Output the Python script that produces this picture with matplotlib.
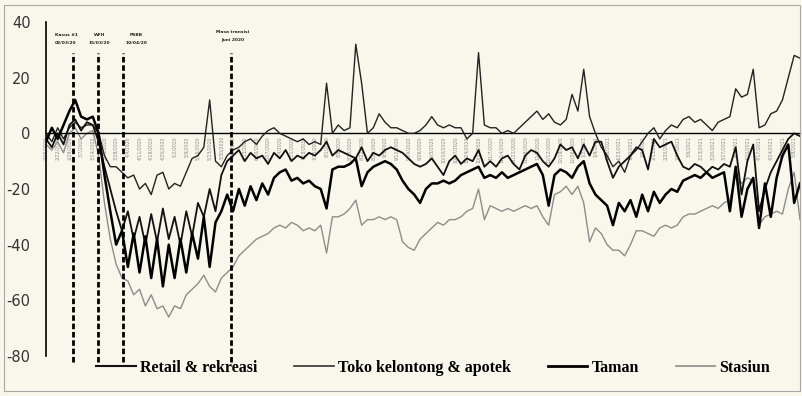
import matplotlib
matplotlib.use('Agg')
import matplotlib.pyplot as plt
import matplotlib.dates as mdates
from matplotlib.ticker import FuncFormatter
from matplotlib.patches import Rectangle
from matplotlib.lines import Line2D
import pandas as pd

plt.rcParams['axes.unicode_minus'] = False

# half-week samples, starting 15 Feb 2020
start = '2020-02-15'

retail = [-2, -5, 0, -4, 3, 5, 1, 4, 3, -3,
          -12, -20, -28, -35, -28, -38, -30, -40, -29, -39,
          -27, -38, -30, -40, -28, -37, -25, -30, -20, -28,
          -15, -10, -8, -6, -10, -7, -9, -8, -11, -7,
          -9, -6, -10, -8, -9, -7, -8, -6, -3, -8,
          -6, -7, -8, -9, -5, -10, -7, -8, -6, -5,
          -6, -7, -9, -11, -12, -11, -9, -12, -15, -10,
          -8, -11, -9, -10, -6, -12, -10, -12, -9, -8,
          -11, -13, -8, -6, -7, -10, -12, -9, -4, -6,
          -5, -9, -4, -8, -3, -3, -10, -16, -12, -10,
          -8, -5, -6, -13, -2, -5, -4, -3, -8, -12,
          -13, -11, -12, -14, -12, -13, -11, -12, -5, -22,
          -10, -4, -28, -20, -14, -10, -6, -2, 0, -1]

toko = [0, -3, 2, -2, 2, 4, 2, 3, 3, 0,
        -8, -12, -12, -14, -16, -15, -20, -18, -22, -15,
        -14, -20, -18, -19, -14, -9, -8, -5, 12, -10,
        -12, -8, -6, -5, -3, -2, -4, -1, 1, 2,
        0, -1, -2, -3, -2, -4, -3, -4, 18, 0,
        3, 1, 2, 32, 18, 0, 2, 7, 4, 2,
        2, 1, 0, 0, 1, 3, 6, 3, 2, 3,
        2, 2, -2, 0, 29, 3, 2, 2, 0, 1,
        0, 2, 4, 6, 8, 5, 7, 4, 3, 5,
        14, 8, 23, 6, 0, -5, -8, -12, -10, -14,
        -8, -6, -3, 0, 2, -2, 1, 3, 2, 5,
        6, 4, 5, 3, 1, 4, 5, 6, 16, 13,
        14, 23, 2, 3, 7, 8, 12, 20, 28, 27]

taman = [-3, 2, -2, 3, 8, 12, 6, 5, 6, 0,
         -15, -28, -40, -35, -48, -36, -50, -37, -52, -38,
         -55, -40, -52, -38, -50, -36, -45, -30, -48, -32,
         -28, -22, -28, -20, -26, -19, -24, -18, -22, -16,
         -14, -13, -17, -16, -18, -17, -19, -20, -27, -13,
         -12, -12, -11, -9, -19, -14, -12, -11, -10, -11,
         -13, -17, -20, -22, -25, -20, -18, -18, -17, -18,
         -17, -15, -14, -13, -12, -16, -15, -16, -14, -16,
         -15, -14, -13, -12, -11, -15, -26, -15, -13, -14,
         -16, -12, -10, -18, -22, -24, -26, -33, -25, -28,
         -24, -30, -22, -28, -21, -25, -22, -20, -21, -17,
         -16, -15, -16, -14, -16, -15, -14, -28, -12, -30,
         -20, -16, -34, -18, -30, -16, -8, -4, -25, -18]

stasiun = [-4, -6, -3, -7, 0, 2, -2, 0, 1, -8,
           -25, -38, -47, -52, -53, -58, -56, -62, -58, -63,
           -62, -66, -62, -63, -58, -56, -54, -51, -55, -57,
           -52, -50, -48, -44, -42, -40, -38, -37, -36, -34,
           -33, -34, -32, -33, -35, -34, -35, -33, -43, -30,
           -30, -29, -27, -24, -33, -31, -31, -30, -31, -30,
           -31, -39, -41, -42, -38, -36, -34, -32, -33, -31,
           -31, -30, -28, -27, -20, -31, -26, -27, -28, -27,
           -28, -27, -26, -27, -26, -30, -33, -22, -21, -19,
           -22, -19, -25, -39, -34, -36, -40, -42, -42, -44,
           -40, -35, -35, -36, -37, -34, -33, -34, -33, -30,
           -29, -29, -28, -27, -26, -27, -25, -24, -15, -18,
           -16, -17, -33, -30, -29, -28, -29, -20, -14, -31]

series_names = ['Retail & rekreasi', 'Toko kelontong & apotek', 'Taman', 'Stasiun']

event_dates = ['2020-03-02', '2020-03-17', '2020-04-01', '2020-06-05']
event_text_dates = ['2020-02-27', '2020-03-18', '2020-04-09', '2020-06-06']
event_labels = ['Kasus #1\n02/03/20', 'WFH\n15/03/20', 'PSBB\n10/04/20', 'Masa transisi\nJuni 2020']

dates = pd.date_range(start, periods=len(retail), freq='84h')

bg = '#f9f7ec'
fig = plt.figure(figsize=(8.02, 3.96), dpi=100, facecolor=bg)
fig.patches.append(Rectangle((4 / 802, 1 - 391 / 396), 796 / 802, 386 / 396,
                             transform=fig.transFigure, fill=False,
                             edgecolor='#a8a8a8', lw=0.8))
ax = fig.add_axes([46 / 802, 1 - 356 / 396, 754 / 802, 334 / 396])
ax.set_facecolor('none')

ax.plot(dates, stasiun, color='#8c8c8c', lw=1.0, zorder=2)
ax.plot(dates, toko, color='#222222', lw=1.0, zorder=3)
ax.plot(dates, retail, color='#111111', lw=1.3, zorder=4)
ax.plot(dates, taman, color='#000000', lw=1.8, zorder=5)

# event markers
for d in event_dates:
    ax.plot([pd.Timestamp(d)] * 2, [-82, 29], color='black', lw=2,
            ls=(0, (2, 1)), clip_on=False, zorder=6)
for d, lab in zip(event_text_dates, event_labels):
    top = 37 if lab.startswith('Masa') else 36
    ax.text(pd.Timestamp(d), top, lab, ha='center', va='top', fontsize=3.2,
            weight='bold', linespacing=2.3, color='#222')

ax.set_ylim(-80, 40)
ax.set_xlim(dates[0], dates[-1])
ax.set_yticks([40, 20, 0, -20, -40, -60, -80])
ax.tick_params(axis='y', length=0, pad=11, labelsize=10.5, labelcolor='#333')

ax.spines['top'].set_visible(False)
ax.spines['right'].set_visible(False)
ax.spines['left'].set_linewidth(1.2)
ax.spines['bottom'].set_position(('data', 0))
ax.spines['bottom'].set_linewidth(1.0)

ax.xaxis.set_major_locator(mdates.WeekdayLocator(byweekday=mdates.SA))
ax.xaxis.set_major_formatter(FuncFormatter(
    lambda v, p: '{0.month}/{0.day}/{0.year}'.format(mdates.num2date(v))))
ax.tick_params(axis='x', length=0, pad=2, labelsize=3.3, labelcolor='#888',
               labelrotation=90)

handles = [Line2D([], [], color='#111111', lw=1.5),
           Line2D([], [], color='#333333', lw=1.2),
           Line2D([], [], color='#000000', lw=2.0),
           Line2D([], [], color='#8c8c8c', lw=1.2)]
fig.legend(handles, series_names, loc='center', bbox_to_anchor=(0.54, 0.071),
           ncol=4, frameon=False, handlelength=2.5, handletextpad=0.25,
           columnspacing=2.3,
           prop={'family': 'Liberation Serif', 'weight': 'bold', 'size': 11.5})

fig.savefig('out.png', dpi=100, facecolor=bg)
